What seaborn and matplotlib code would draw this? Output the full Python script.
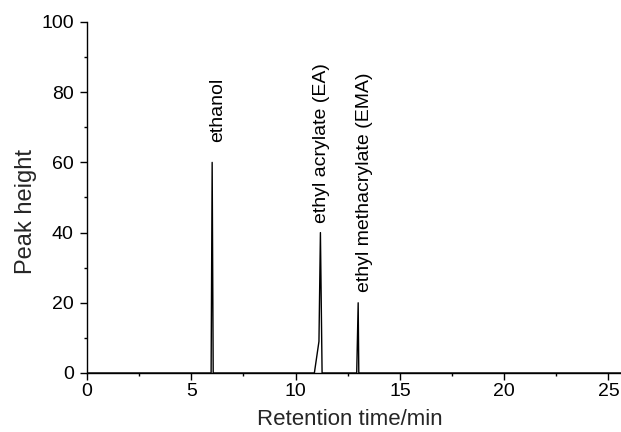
import numpy as np
import pandas as pd
import matplotlib
matplotlib.use("Agg")
import matplotlib.pyplot as plt
import seaborn as sns
from matplotlib.ticker import MultipleLocator

# chromatogram trace (retention time in min, peak height)
retention_time = [0.0, 5.95, 6.00, 6.05, 10.90, 11.12, 11.19, 11.27, 12.93, 13.00, 13.03, 25.6]
peak_height = [0, 0, 60, 0, 0, 9, 40, 0, 0, 20, 0, 0]

# peak labels
peak_names = ["ethanol", "ethyl acrylate (EA)", "ethyl methacrylate (EMA)"]
peak_times = [6.00, 11.19, 13.00]
peak_tops = [60, 40, 20]

df = pd.DataFrame({"time": retention_time, "height": peak_height})

sns.set_style("ticks")
plt.rcParams["font.family"] = ["Liberation Sans", "DejaVu Sans"]

fig = plt.figure(figsize=(6.21, 4.32), dpi=100)
ax = fig.add_axes([0.1401, 0.1366, 0.8599, 0.8125])

sns.lineplot(data=df, x="time", y="height", sort=False, estimator=None,
             color="black", linewidth=1.0, ax=ax)

# label offsets (points) from each peak tip
label_offsets = [(10, 14.4), (6.7, 7.2), (10.6, 8)]
for name, t, h, off in zip(peak_names, peak_times, peak_tops, label_offsets):
    ax.annotate(name, xy=(t, h), xytext=off, textcoords="offset points",
                rotation=90, ha="right", va="bottom", fontsize=14, color="black")

ax.set_xlim(0, 25.6)
ax.set_ylim(0, 100)
ax.xaxis.set_major_locator(MultipleLocator(5))
ax.xaxis.set_minor_locator(MultipleLocator(2.5))
ax.yaxis.set_major_locator(MultipleLocator(20))
ax.yaxis.set_minor_locator(MultipleLocator(10))
ax.tick_params(which="major", length=5, width=1, labelsize=14, color="black", labelcolor="black")
ax.tick_params(which="minor", length=2.5, width=1, color="black")
ax.tick_params(axis="x", which="major", pad=2.5)
ax.tick_params(axis="y", which="major", pad=4.5)
for s in ["left", "bottom"]:
    ax.spines[s].set_linewidth(1)
    ax.spines[s].set_color("black")
sns.despine(ax=ax)
ax.set_xlabel("Retention time/min", fontsize=16)
ax.set_ylabel("Peak height", fontsize=17)
ax.xaxis.set_label_coords(0.4925, -0.1026)
ax.yaxis.set_label_coords(-0.0936, 0.4615)

fig.savefig("out.png", dpi=100)
